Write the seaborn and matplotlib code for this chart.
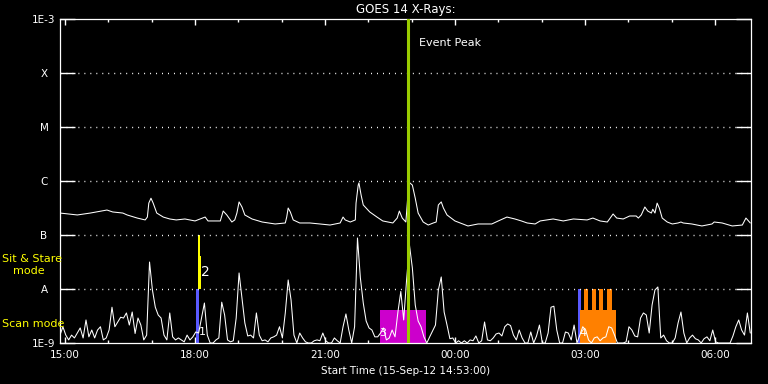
import numpy as np
import pandas as pd
import matplotlib
matplotlib.use("Agg")
import matplotlib.pyplot as plt
import matplotlib.dates as mdates
from matplotlib.ticker import FixedLocator, NullLocator
import seaborn as sns

# ---------------- data ----------------
# GOES long channel (1-8 A)
long_time = ["14:53", "15:17", "15:35", "15:58", "16:06", "16:20", "16:26", "16:40", "16:51", "16:54",
             "16:56", "16:59", "17:02", "17:07", "17:16", "17:25", "17:34", "17:46", "18:00", "18:14",
             "18:18", "18:35", "18:39", "18:44", "18:51", "18:55", "18:58", "19:01", "19:05", "19:09",
             "19:19", "19:33", "19:51", "20:05", "20:07", "20:09", "20:12", "20:16", "20:25", "20:39",
             "20:53", "21:07", "21:21", "21:25", "21:28", "21:35", "21:42", "21:43", "21:46", "21:47",
             "21:50", "21:53", "22:02", "22:12", "22:20", "22:34", "22:40", "22:43", "22:47", "22:52",
             "22:54", "22:56", "23:01", "23:05", "23:09", "23:16", "23:23", "23:30", "23:34", "23:37",
             "23:41", "23:44", "23:49", "00:00", "00:18", "00:32", "00:51", "01:00", "01:12", "01:23",
             "01:32", "01:40", "01:51", "01:58", "02:16", "02:30", "02:44", "03:03", "03:11", "03:21",
             "03:31", "03:35", "03:39", "03:44", "03:53", "04:02", "04:11", "04:14", "04:18", "04:23",
             "04:27", "04:32", "04:34", "04:37", "04:40", "04:43", "04:47", "04:54", "05:01", "05:09",
             "05:13", "05:16", "05:28", "05:42", "05:56", "05:59", "06:10", "06:24", "06:38", "06:43",
             "06:49"]
long_flux = [2.55e-7, 2.35e-7, 2.55e-7, 2.9e-7, 2.67e-7, 2.55e-7, 2.35e-7, 2.06e-7, 1.9e-7, 2.15e-7,
             3.9e-7, 4.8e-7, 3.9e-7, 2.55e-7, 2.15e-7, 1.98e-7, 1.9e-7, 1.98e-7, 1.82e-7, 2.15e-7,
             1.82e-7, 1.82e-7, 2.78e-7, 2.35e-7, 1.74e-7, 1.9e-7, 2.55e-7, 4.1e-7, 3.3e-7, 2.35e-7,
             1.98e-7, 1.74e-7, 1.6e-7, 1.67e-7, 2.15e-7, 3.16e-7, 2.67e-7, 1.9e-7, 1.67e-7, 1.67e-7,
             1.6e-7, 1.53e-7, 1.67e-7, 2.15e-7, 1.9e-7, 1.74e-7, 1.9e-7, 3.9e-7, 8.4e-7, 9.2e-7,
             5.5e-7, 3.6e-7, 2.67e-7, 2.15e-7, 1.82e-7, 1.67e-7, 2.06e-7, 2.78e-7, 2.06e-7, 1.74e-7,
             3.9e-7, 9.6e-7, 8.4e-7, 4.8e-7, 2.55e-7, 1.74e-7, 1.53e-7, 1.67e-7, 1.74e-7, 3.6e-7,
             4.1e-7, 3.16e-7, 2.35e-7, 1.82e-7, 1.47e-7, 1.6e-7, 1.6e-7, 1.82e-7, 2.15e-7, 1.98e-7,
             1.82e-7, 1.67e-7, 1.6e-7, 1.82e-7, 1.98e-7, 1.82e-7, 1.98e-7, 1.9e-7, 2.06e-7, 1.82e-7,
             1.74e-7, 2.06e-7, 2.45e-7, 2.06e-7, 1.98e-7, 2.25e-7, 2.25e-7, 2.06e-7, 2.35e-7, 3.3e-7,
             2.78e-7, 2.55e-7, 3.0e-7, 2.55e-7, 3.9e-7, 3.16e-7, 2.06e-7, 1.74e-7, 1.6e-7, 1.67e-7,
             1.74e-7, 1.67e-7, 1.6e-7, 1.47e-7, 1.6e-7, 1.74e-7, 1.67e-7, 1.47e-7, 1.53e-7, 2.06e-7,
             1.67e-7]

# GOES short channel (0.5-4 A), one value every 4 minutes from 14:53
short_start = "2012-09-15 14:53"
short_flux = [1.4e-9, 2.0e-9, 1.4e-9, 1.14e-9, 1.4e-9, 1.24e-9, 1.53e-9, 1.9e-9, 1.24e-9, 2.67e-9,
              1.3e-9, 1.74e-9, 1.24e-9, 1.74e-9, 2.0e-9, 1.14e-9, 1.24e-9, 1.74e-9, 4.6e-9, 2.0e-9,
              2.45e-9, 3.0e-9, 2.9e-9, 3.6e-9, 2.15e-9, 3.75e-9, 1.5e-9, 2.9e-9, 2.15e-9, 1.14e-9,
              1.4e-9, 3.16e-8, 9.6e-9, 4.6e-9, 3.3e-9, 2.9e-9, 1.4e-9, 1.14e-9, 3.6e-9, 1.3e-9,
              1.14e-9, 1.24e-9, 1.14e-9, 1.05e-9, 1.4e-9, 1.14e-9, 1.3e-9, 1.6e-9, 1.53e-9, 2.9e-9,
              5.5e-9, 1.4e-9, 1.0e-9, 1.0e-9, 1.14e-9, 1.24e-9, 5.7e-9, 3.3e-9, 1.14e-9, 1.05e-9,
              1.1e-9, 2.9e-9, 1.98e-8, 6.8e-9, 2.35e-9, 1.35e-9, 1.4e-9, 1.24e-9, 3.6e-9, 1.4e-9,
              1.1e-9, 1.14e-9, 1.05e-9, 1.24e-9, 1.3e-9, 1.4e-9, 2.0e-9, 1.24e-9, 3.6e-9, 1.47e-8,
              6.26e-9, 1.4e-9, 1.0e-9, 1.53e-9, 1.24e-9, 1.05e-9, 1.0e-9, 1.0e-9, 1.1e-9, 1.14e-9,
              1.1e-9, 1.53e-9, 1.1e-9, 1.0e-9, 1.0e-9, 1.24e-9, 1.1e-9, 1.0e-9, 2.0e-9, 3.45e-9,
              1.74e-9, 1.0e-9, 2.0e-9, 8.8e-8, 1.6e-8, 5.5e-9, 2.55e-9, 1.9e-9, 1.74e-9, 1.3e-9,
              1.3e-9, 1.53e-9, 1.9e-9, 1.14e-9, 1.24e-9, 1.74e-9, 1.3e-9, 3.75e-9, 9.0e-9, 2.67e-9,
              1.47e-8, 6.5e-8, 2.45e-8, 5.05e-9, 2.55e-9, 2.0e-9, 1.3e-9, 1.0e-9, 1.3e-9, 1.67e-9,
              2.15e-9, 9.6e-9, 1.67e-8, 3.75e-9, 2.15e-9, 1.2e-9, 1.24e-9, 1.0e-9, 1.1e-9, 1.0e-9,
              1.1e-9, 1.0e-9, 1.14e-9, 1.1e-9, 1.35e-9, 1.0e-9, 1.1e-9, 2.45e-9, 1.14e-9, 1.1e-9,
              1.24e-9, 1.47e-9, 1.53e-9, 1.35e-9, 2.0e-9, 2.25e-9, 2.1e-9, 1.4e-9, 1.14e-9, 1.74e-9,
              1.24e-9, 1.0e-9, 1.0e-9, 1.6e-9, 1.0e-9, 1.35e-9, 2.15e-9, 1.0e-9, 1.0e-9, 1.53e-9,
              4.6e-9, 4.8e-9, 1.74e-9, 1.0e-9, 1.0e-9, 1.6e-9, 1.53e-9, 1.14e-9, 2.15e-9, 1.0e-9,
              1.4e-9, 2.0e-9, 1.74e-9, 1.14e-9, 1.0e-9, 1.24e-9, 1.3e-9, 1.1e-9, 1.24e-9, 1.3e-9,
              2.0e-9, 1.9e-9, 1.4e-9, 1.0e-9, 1.0e-9, 1.0e-9, 1.05e-9, 2.0e-9, 1.74e-9, 1.35e-9,
              1.3e-9, 2.9e-9, 3.6e-9, 3.3e-9, 1.53e-9, 5.05e-9, 9.6e-9, 1.09e-8, 1.24e-9, 1.4e-9,
              1.1e-9, 1.0e-9, 1.0e-9, 1.24e-9, 2.35e-9, 3.75e-9, 1.53e-9, 1.0e-9, 1.24e-9, 1.4e-9,
              1.2e-9, 1.14e-9, 1.0e-9, 1.2e-9, 1.3e-9, 1.1e-9, 1.74e-9, 1.05e-9, 1.0e-9, 1.0e-9,
              1.0e-9, 1.0e-9, 1.0e-9, 1.35e-9, 2.0e-9, 2.67e-9, 1.74e-9, 1.4e-9, 3.6e-9, 1.53e-9]

# observing blocks (scan / sit & stare)
block_start = ["18:00:54", "18:03:42", "18:03:42", "22:16:00", "02:49:48", "02:53:00",
               "02:58:30", "03:09:36", "03:19:42", "03:30:24"]
block_end = ["18:05:00", "18:06:24", "18:08:12", "23:19:48", "02:53:54", "03:42:48",
             "03:04:06", "03:14:42", "03:25:12", "03:36:54"]
block_low = [1e-9, 1e-8, 1e-8, 1e-9, 1e-9, 1e-9, 4.1e-9, 4.1e-9, 4.1e-9, 4.1e-9]
block_high = [1e-8, 1e-7, 4.1e-8, 4.1e-9, 1e-8, 4.1e-9, 1e-8, 1e-8, 1e-8, 1e-8]
block_color = ["#5a5aff", "#ffff00", "#ffff00", "#cc00cc", "#5a5aff", "#ff8000",
               "#ff8000", "#ff8000", "#ff8000", "#ff8000"]

block_label = ["1", "2", "3", "4"]
label_time = ["18:10", "18:14:30", "22:20", "02:58"]
label_flux = [1.6e-9, 2.1e-8, 1.5e-9, 1.5e-9]

peak_time = "22:55:30"
x_range = ["14:53", "06:50"]

class_flux = [1e-9, 1e-8, 1e-7, 1e-6, 1e-5, 1e-4, 1e-3]
class_label = ["1E-9", "A", "B", "C", "M", "X", "1E-3"]


def to_time(s):
    t = pd.Timestamp("2012-09-15 " + s)
    if t.hour < 12:
        t += pd.Timedelta(days=1)
    return t


long_t = [to_time(s) for s in long_time]
short_t = pd.date_range(short_start, periods=len(short_flux), freq="4min")

# ---------------- style ----------------
sns.set_theme(style="ticks", rc={
    "axes.facecolor": "black", "figure.facecolor": "black",
    "axes.edgecolor": "white", "text.color": "white",
    "xtick.color": "white", "ytick.color": "white",
    "axes.labelcolor": "white", "axes.linewidth": 0.9,
})
plt.rcParams["font.family"] = ["DejaVu Sans"]

fig = plt.figure(figsize=(7.68, 3.84), dpi=100)
ax = fig.add_axes([60 / 768, 41 / 384, 691 / 768, 324 / 384])
ax.set_yscale("log")

# blocks underneath the curves
for s, e, lo, hi, c in zip(block_start, block_end, block_low, block_high, block_color):
    x0 = mdates.date2num(to_time(s))
    x1 = mdates.date2num(to_time(e))
    ax.bar(x0, hi - lo, width=x1 - x0, bottom=lo, align="edge", color=c, linewidth=0)

# dotted class levels
for f in class_flux[1:-1]:
    ax.axhline(f, color="white", lw=1.0, linestyle=(0, (0.7, 3.6)), zorder=1)

sns.lineplot(x=long_t, y=long_flux, ax=ax, color="white", lw=0.75, zorder=3)
sns.lineplot(x=short_t, y=short_flux, ax=ax, color="white", lw=0.75, zorder=3)

ax.axvline(to_time(peak_time), color="#99cc00", lw=2.2, zorder=4)
ax.annotate("Event Peak", xy=(to_time(peak_time), 1e-3), xytext=(7.5, -17),
            textcoords="offset points", ha="left", va="center", fontsize=8, color="white")

for lab, t, f in zip(block_label, label_time, label_flux):
    ax.text(to_time(t), f, lab, ha="center", va="center", color="white",
            fontsize=10 if lab == "2" else 8, zorder=5)

ax.set_xlim(to_time(x_range[0]), to_time(x_range[1]))
ax.set_ylim(class_flux[0], class_flux[-1])

ax.yaxis.set_major_locator(FixedLocator(class_flux))
ax.yaxis.set_minor_locator(NullLocator())
ax.set_yticklabels(class_label)
for lab in ax.get_yticklabels():
    lab.set_horizontalalignment("center")
ax.tick_params(axis="y", which="major", direction="in", length=10.8, width=1.0,
               left=True, right=True, labelsize=7.5, pad=11.5)

ax.xaxis.set_major_locator(mdates.HourLocator(byhour=[0, 3, 6, 15, 18, 21]))
ax.xaxis.set_minor_locator(mdates.HourLocator())
ax.xaxis.set_major_formatter(mdates.DateFormatter("%H:%M"))
ax.tick_params(axis="x", which="major", direction="in", length=4.3, width=1.0,
               top=True, bottom=True, labelsize=7.5, pad=5)
ax.tick_params(axis="x", which="minor", direction="in", length=2.2, width=1.0,
               top=True, bottom=True)
for sp in ax.spines.values():
    sp.set_color("white")

ax.set_title("GOES 14 X-Rays:", fontsize=8.5, color="white", pad=4)
ax.set_xlabel("Start Time (15-Sep-12 14:53:00)", fontsize=7.5, labelpad=4)
ax.set_ylabel("")

fig.text(2 / 768, 1 - 259 / 384, "Sit & Stare", color="#ffff00", fontsize=8, ha="left", va="center")
fig.text(13 / 768, 1 - 271 / 384, "mode", color="#ffff00", fontsize=8, ha="left", va="center")
fig.text(2 / 768, 1 - 324 / 384, "Scan mode", color="#ffff00", fontsize=8, ha="left", va="center")

fig.savefig("out.png", dpi=100, facecolor="black")
